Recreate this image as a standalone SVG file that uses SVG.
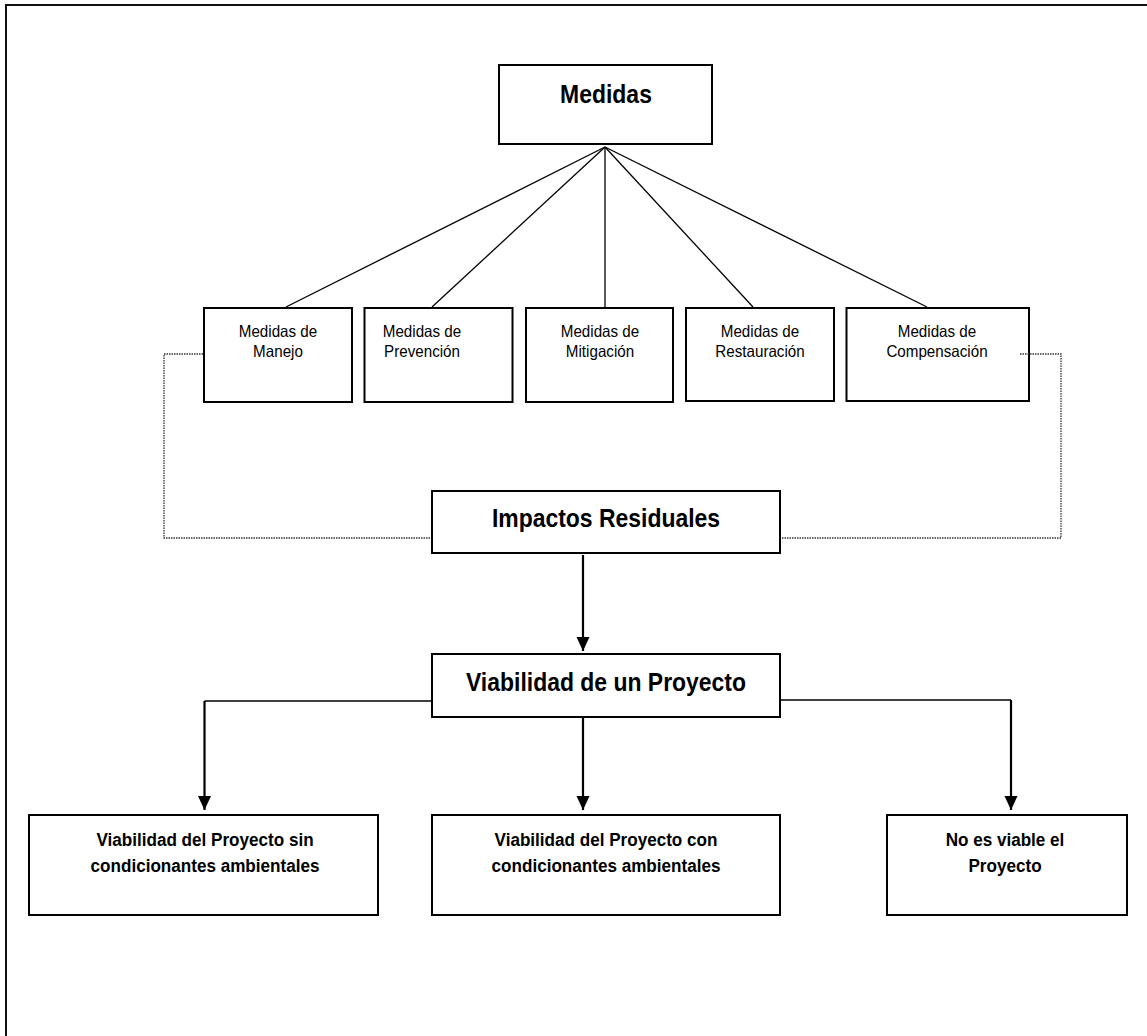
<svg xmlns="http://www.w3.org/2000/svg" width="1147" height="1036" viewBox="0 0 1147 1036">
  <defs>
    <marker id="arrow" markerUnits="userSpaceOnUse" markerWidth="14" markerHeight="14" viewBox="0 0 14 14" refX="14" refY="7" orient="auto">
      <path d="M0,0.5 L14,7 L0,13.5 Z" fill="#000"/>
    </marker>
    <style>
      .box { fill: #fff; stroke: #000; stroke-width: 2; }
      .fan { stroke: #000; stroke-width: 1.3; fill: none; }
      .dot { stroke: #333; stroke-width: 1.3; stroke-dasharray: 1.5 1; fill: none; }
      .flow { stroke: #000; stroke-width: 2.2; fill: none; }
      .branch { stroke: #000; stroke-width: 1.5; fill: none; }
      text { font-family: "Liberation Sans", Arial, sans-serif; fill: #000; text-anchor: middle; }
      .big { font-size: 25.5px; font-weight: bold; }
      .small { font-size: 16.5px; }
      .out { font-size: 19px; font-weight: bold; }
    </style>
  </defs>

  <rect width="1147" height="1036" fill="#fff"/>

  <!-- page frame (top and left edges) -->
  <path d="M6,1036 V5 H1147" stroke="#111" stroke-width="2" fill="none"/>

  <g id="medidas">
    <rect class="box" x="499" y="65" width="213" height="79"/>
    <text class="big" transform="translate(606 103) scale(0.9 1)" x="0" y="0">Medidas</text>
  </g>

  <g id="manejo">
    <rect class="box" x="204" y="308" width="148" height="94"/>
    <text class="small" transform="translate(278 337) scale(0.92 1)"><tspan x="0" y="0">Medidas de</tspan><tspan x="0" y="20.5">Manejo</tspan></text>
  </g>

  <g id="prevencion">
    <rect class="box" x="364.5" y="308" width="148" height="94"/>
    <text class="small" transform="translate(422 337) scale(0.92 1)"><tspan x="0" y="0">Medidas de</tspan><tspan x="0" y="20.5">Prevención</tspan></text>
  </g>

  <g id="mitigacion">
    <rect class="box" x="526" y="308" width="147" height="94"/>
    <text class="small" transform="translate(600 337) scale(0.92 1)"><tspan x="0" y="0">Medidas de</tspan><tspan x="0" y="20.5">Mitigación</tspan></text>
  </g>

  <g id="restauracion">
    <rect class="box" x="686" y="308" width="148" height="93"/>
    <text class="small" transform="translate(760 337) scale(0.92 1)"><tspan x="0" y="0">Medidas de</tspan><tspan x="0" y="20.5">Restauración</tspan></text>
  </g>

  <g id="compensacion">
    <rect class="box" x="846.5" y="308" width="182.5" height="93"/>
    <text class="small" transform="translate(937 337) scale(0.92 1)"><tspan x="0" y="0">Medidas de</tspan><tspan x="0" y="20.5">Compensación</tspan></text>
  </g>

  <g id="impactos">
    <rect class="box" x="432" y="491" width="348" height="62"/>
    <text class="big" transform="translate(606 527) scale(0.9 1)" x="0" y="0">Impactos Residuales</text>
  </g>

  <g id="viabilidad">
    <rect class="box" x="432" y="654" width="348" height="63"/>
    <text class="big" transform="translate(606 691) scale(0.9 1)" x="0" y="0">Viabilidad de un Proyecto</text>
  </g>

  <g id="sin-condicionantes">
    <rect class="box" x="29" y="815" width="349" height="100"/>
    <text class="out" transform="translate(205 846) scale(0.9 1)"><tspan x="0" y="0">Viabilidad del Proyecto sin</tspan><tspan x="0" y="26">condicionantes ambientales</tspan></text>
  </g>

  <g id="con-condicionantes">
    <rect class="box" x="432" y="815" width="348" height="100"/>
    <text class="out" transform="translate(606 846) scale(0.9 1)"><tspan x="0" y="0">Viabilidad del Proyecto con</tspan><tspan x="0" y="26">condicionantes ambientales</tspan></text>
  </g>

  <g id="no-viable">
    <rect class="box" x="887" y="815" width="240" height="100"/>
    <text class="out" transform="translate(1005 846) scale(0.9 1)"><tspan x="0" y="0">No es viable el</tspan><tspan x="0" y="26">Proyecto</tspan></text>
  </g>

  <!-- connectors, drawn over the boxes -->
  <g id="connectors">
    <!-- fan from Medidas to the five kinds of measures -->
    <line class="fan" x1="605" y1="147" x2="286" y2="307"/>
    <line class="fan" x1="605" y1="147" x2="432" y2="307"/>
    <line class="fan" x1="605" y1="147" x2="605" y2="307"/>
    <line class="fan" x1="605" y1="147" x2="753" y2="307"/>
    <line class="fan" x1="605" y1="147" x2="927" y2="307"/>
    <!-- dotted links into Impactos Residuales -->
    <path class="dot" d="M203,354 H164 V538 H431"/>
    <path class="dot" d="M1020,354 H1061 V538 H781"/>
    <!-- Impactos Residuales to Viabilidad -->
    <line class="flow" x1="583" y1="555" x2="583" y2="651" marker-end="url(#arrow)"/>
    <!-- branches to the three outcomes -->
    <path class="branch" d="M431,701 H204.5"/>
    <path class="branch" d="M781,700 H1011"/>
    <line class="flow" x1="204.5" y1="701" x2="204.5" y2="810" marker-end="url(#arrow)"/>
    <line class="flow" x1="583" y1="718" x2="583" y2="810" marker-end="url(#arrow)"/>
    <line class="flow" x1="1011" y1="700" x2="1011" y2="810" marker-end="url(#arrow)"/>
  </g>
</svg>
